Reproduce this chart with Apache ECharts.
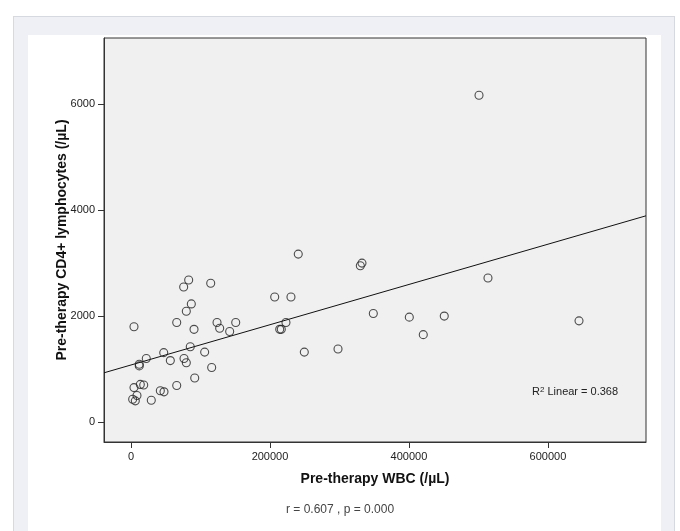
<!DOCTYPE html>
<html>
<head>
<meta charset="utf-8">
<script src="https://cdn.jsdelivr.net/npm/echarts@6/dist/echarts.min.js"></script>
<style>
  html, body { margin: 0; padding: 0; background: #fff; }
  #frame { position: absolute; left: 13px; top: 16px; width: 660px; height: 520px;
           background: #eff0f6; border: 1px solid #d6d9df; border-bottom: none; }
  #panel { position: absolute; left: 28px; top: 35px; width: 633px; height: 496px; background: #fff; }
  #chart { position: absolute; left: 0; top: 0; width: 680px; height: 531px; }
</style>
</head>
<body>
<div id="frame"></div>
<div id="panel"></div>
<div id="chart"></div>
<script>
// Pre-therapy WBC (/uL) vs CD4+ lymphocytes (/uL)
const wbc = [
  4300, 83000, 75800, 114700, 86800, 79600, 65800, 90700, 123800, 127600,
  150700, 142000, 206800, 230200, 223000, 214000, 216300, 240700, 85300, 106000,
  47100, 22000, 11900, 11900, 56600, 76300, 79600, 116100, 91700, 65800,
  13400, 18300, 4300, 8600, 2400, 6200, 29200, 42200, 47500, 332400,
  330000, 348700, 249400, 297900, 500800, 513700, 400500, 450800, 420600, 644700
];
const cd4 = [
  1800, 2680, 2550, 2620, 2230, 2090, 1880, 1750, 1880, 1770,
  1880, 1710, 2360, 2360, 1880, 1750, 1750, 3170, 1420, 1320,
  1310, 1200, 1090, 1060, 1160, 1200, 1120, 1030, 830, 690,
  710, 700, 650, 500, 430, 400, 410, 590, 570, 3000,
  2950, 2050, 1320, 1380, 6170, 2720, 1980, 2000, 1650, 1910
];

const xTicks = [0, 200000, 400000, 600000];
const yTicks = [0, 2000, 4000, 6000];

// fit line as drawn in the figure
const fitIntercept = 1077;
const fitSlope = 0.0038;
const rSquared = '0.368';
const footNote = 'r = 0.607 , p = 0.000';

const xMin = -38850, xMax = 741100;
const yMin = -377, yMax = 7250;

const points = wbc.map((v, i) => [v, cd4[i]]);
const fitLine = [
  [xMin, fitIntercept + fitSlope * xMin],
  [xMax, fitIntercept + fitSlope * xMax]
];

const chart = echarts.init(document.getElementById('chart'));
const font = '"Liberation Sans", Arial, sans-serif';
const plain = v => String(v);

chart.setOption({
  animation: false,
  textStyle: { fontFamily: font },
  grid: {
    left: 104, right: 34, top: 38, bottom: 89,
    show: true,
    backgroundColor: '#f0f0f0',
    borderColor: '#333',
    borderWidth: 1
  },
  xAxis: {
    type: 'value',
    min: xMin, max: xMax,
    name: 'Pre-therapy WBC (/µL)',
    nameLocation: 'middle',
    nameGap: 30,
    nameMoveOverlap: false,
    nameTextStyle: { fontSize: 14, fontWeight: 'bold', color: '#111', fontFamily: font },
    axisLine: { show: true, onZero: false, lineStyle: { color: '#333', width: 1 } },
    axisTick: { show: true, length: 6, customValues: xTicks, lineStyle: { color: '#333' } },
    axisLabel: { customValues: xTicks, formatter: plain, color: '#222', fontSize: 11, margin: 9, fontFamily: font },
    splitLine: { show: false }
  },
  yAxis: {
    type: 'value',
    min: yMin, max: yMax,
    name: 'Pre-therapy CD4+ lymphocytes (/µL)',
    nameLocation: 'middle',
    nameGap: 35,
    nameMoveOverlap: false,
    nameTextStyle: { fontSize: 14, fontWeight: 'bold', color: '#111', fontFamily: font },
    axisLine: { show: true, onZero: false, lineStyle: { color: '#333', width: 1 } },
    axisTick: { show: true, length: 6, customValues: yTicks, lineStyle: { color: '#333' } },
    axisLabel: { customValues: yTicks, formatter: plain, color: '#222', fontSize: 11, margin: 9, fontFamily: font },
    splitLine: { show: false }
  },
  graphic: [
    {
      type: 'text',
      left: 532, top: 386,
      style: {
        text: '{b|R}{s|2}{b| Linear = ' + rSquared + '}',
        rich: {
          b: { fontSize: 11, fontFamily: font, fill: '#222', verticalAlign: 'bottom' },
          s: { fontSize: 8, fontFamily: font, fill: '#222', verticalAlign: 'top' }
        }
      }
    },
    {
      type: 'text',
      left: 286, top: 504,
      style: { text: footNote, fontSize: 12, fontFamily: font, fill: '#444' }
    }
  ],
  series: [
    {
      type: 'line',
      data: fitLine,
      showSymbol: false,
      symbol: 'none',
      lineStyle: { color: '#111', width: 1 },
      silent: true,
      z: 2
    },
    {
      type: 'scatter',
      data: points,
      symbol: 'circle',
      symbolSize: 8,
      itemStyle: { color: 'rgba(0,0,0,0)', borderColor: '#222', borderWidth: 1.1 },
      z: 3
    }
  ]
});
</script>
</body>
</html>
